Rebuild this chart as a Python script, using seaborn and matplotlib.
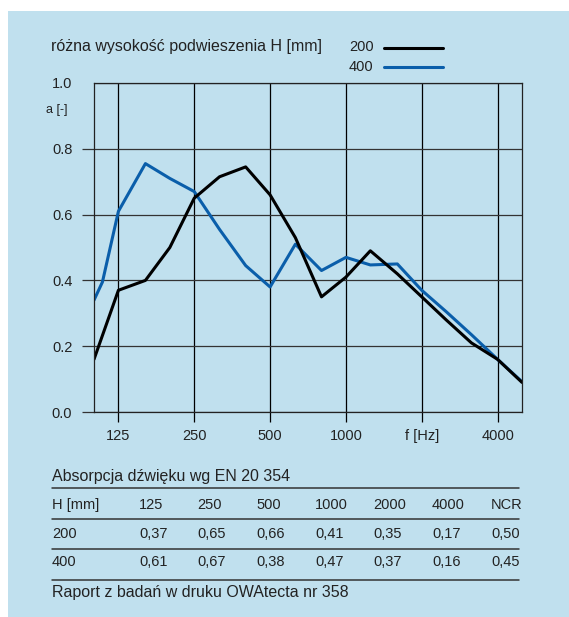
import pandas as pd
import matplotlib
matplotlib.use("Agg")
import matplotlib.pyplot as plt
import seaborn as sns
from matplotlib.lines import Line2D
from matplotlib.patches import Rectangle

# absorption curves (third-octave bands)
freq_200 = [100, 125, 160, 200, 250, 315, 400, 500, 630, 800, 1000, 1250, 1600, 2000, 2500, 3150, 4000, 5000]
alpha_200 = [0.16, 0.37, 0.40, 0.50, 0.65, 0.715, 0.745, 0.66, 0.53, 0.35, 0.41, 0.49, 0.42, 0.35, 0.28, 0.21, 0.16, 0.09]

freq_400 = [100, 108, 125, 160, 200, 250, 315, 400, 500, 630, 800, 1000, 1250, 1600, 2000, 2500, 3150, 4000, 5000]
alpha_400 = [0.34, 0.395, 0.61, 0.755, 0.71, 0.67, 0.555, 0.445, 0.38, 0.51, 0.43, 0.47, 0.447, 0.45, 0.37, 0.305, 0.235, 0.16, 0.092]

x_ticks = [125, 250, 500, 1000, 2000, 4000]
x_labels = ["125", "250", "500", "1000", "f [Hz]", "4000"]
y_ticks = [0.0, 0.2, 0.4, 0.6, 0.8, 1.0]

# table below the chart
table_head = ["H [mm]", "125", "250", "500", "1000", "2000", "4000", "NCR"]
row_200 = ["200", "0,37", "0,65", "0,66", "0,41", "0,35", "0,17", "0,50"]
row_400 = ["400", "0,61", "0,67", "0,38", "0,47", "0,37", "0,16", "0,45"]

BG = "#c0e0ee"
BLUE = "#0a5eaa"
W, H = 569, 617
SANS = ["Liberation Sans", "DejaVu Sans"]

sns.set_style("ticks")
plt.rcParams["font.family"] = SANS

df = pd.concat([
    pd.DataFrame({"f": freq_200, "a": alpha_200, "H": "200"}),
    pd.DataFrame({"f": freq_400, "a": alpha_400, "H": "400"}),
])

fig = plt.figure(figsize=(W / 100, H / 100), dpi=100, facecolor="white")
fig.patches.append(Rectangle((8 / W, 0), 1 - 8 / W, 1 - 11 / H, transform=fig.transFigure,
                             facecolor=BG, edgecolor="none", zorder=-10))


def fx(x):
    return x / W


def fy(y):
    return 1 - y / H


ax = fig.add_axes([fx(94), fy(412), (522 - 94) / W, (412 - 83) / H])
ax.set_facecolor(BG)

sns.lineplot(data=df, x="f", y="a", hue="H", palette={"200": "black", "400": BLUE},
             hue_order=["400", "200"], estimator=None, sort=False, legend=False,
             linewidth=2.2, ax=ax)

ax.set_xscale("log")
ax.set_xlim(100, 5000)
ax.set_ylim(0, 1.0)
ax.set_xticks(x_ticks)
ax.set_xticklabels(x_labels, fontsize=10.5, color="#222222")
ax.minorticks_off()
ax.set_yticks(y_ticks)
ax.set_yticklabels([f"{v:.1f}" for v in y_ticks], fontsize=10.5, color="#222222")
ax.tick_params(axis="x", direction="out", length=7, width=0.9, color="black", pad=5)
ax.tick_params(axis="y", direction="out", length=8.6, width=0.9, color="#333333", pad=7)
ax.yaxis.get_major_ticks()[-1].tick1line.set_visible(False)
ax.set_xlabel("")
ax.set_ylabel("")
ax.grid(axis="x", color="black", linewidth=0.9)
ax.grid(axis="y", color="#333333", linewidth=0.9)
ax.set_axisbelow(True)
for s in ax.spines.values():
    s.set_color("#222222")
    s.set_linewidth(0.9)

fig.text(fx(46), fy(110), "a [-]", fontsize=9, va="center", ha="left", color="#222222")

# legend header
fig.text(fx(51), fy(47), "różna wysokość podwieszenia H [mm]", fontsize=11.5,
         va="center", ha="left", color="#222222")
fig.text(fx(349), fy(47), "200", fontsize=10.5, va="center", ha="left", color="#222222")
fig.text(fx(349), fy(67), "400", fontsize=10.5, va="center", ha="left", color="#222222")
fig.lines.append(Line2D([fx(384), fx(443)], [fy(48), fy(48)], color="black", lw=2.2,
                        transform=fig.transFigure))
fig.lines.append(Line2D([fx(384), fx(443)], [fy(67), fy(67)], color=BLUE, lw=2.2,
                        transform=fig.transFigure))

# table
fig.text(fx(52), fy(477), "Absorpcja dźwięku wg EN 20 354", fontsize=11.5,
         va="center", ha="left", color="#222222")
fig.text(fx(52), fy(592), "Raport z badań w druku OWAtecta nr 358", fontsize=11.5,
         va="center", ha="left", color="#222222")
for yl in [488, 519, 549, 580]:
    fig.lines.append(Line2D([fx(52), fx(519)], [fy(yl), fy(yl)], color="#333333", lw=1.1,
                            transform=fig.transFigure))
col_x = [52, 139, 197, 256, 315, 373, 432, 491]
for row, yrow in [(table_head, 505), (row_200, 534), (row_400, 562)]:
    for cx, txt in zip(col_x, row):
        fig.text(fx(cx), fy(yrow), txt, fontsize=10.5,
                 va="center", ha="left", color="#222222")

fig.savefig("out.png", dpi=100, facecolor="white")
